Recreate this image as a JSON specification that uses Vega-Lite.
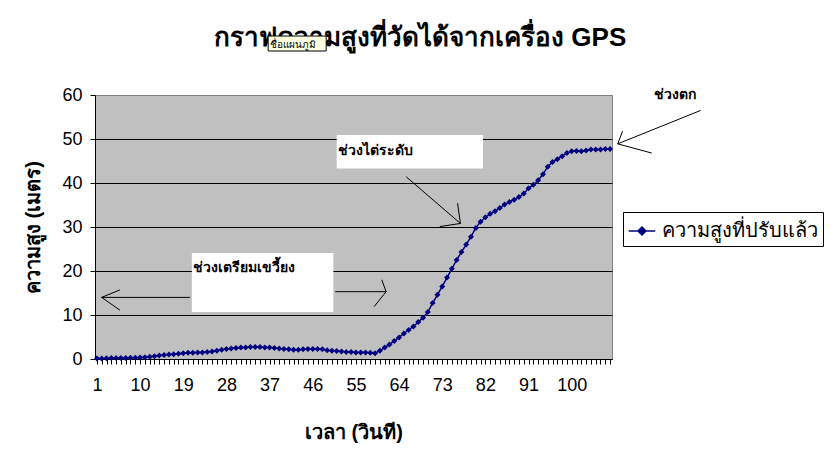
{
  "$schema": "https://vega.github.io/schema/vega-lite/v6.json",
  "autosize": {"type": "none"},
  "width": 517,
  "height": 264,
  "padding": {"left": 95, "top": 95, "right": 223, "bottom": 92},
  "background": "white",
  "config": {
    "view": {"fill": "#C0C0C0", "stroke": "#808080", "strokeWidth": 1},
    "axis": {"labelFont": "Liberation Sans", "titleFont": "Liberation Sans", "labelColor": "black", "titleColor": "black", "domainColor": "black", "tickColor": "black"}
  },
  "datasets": {
    "series": [
      {"t":1,"h":0.1},{"t":2,"h":0.1},{"t":3,"h":0.15},{"t":4,"h":0.2},{"t":5,"h":0.2},{"t":6,"h":0.25},{"t":7,"h":0.25},{"t":8,"h":0.3},{"t":9,"h":0.3},{"t":10,"h":0.35},
      {"t":11,"h":0.4},{"t":12,"h":0.5},{"t":13,"h":0.65},{"t":14,"h":0.8},{"t":15,"h":0.9},{"t":16,"h":1.0},{"t":17,"h":1.1},{"t":18,"h":1.2},{"t":19,"h":1.3},{"t":20,"h":1.4},
      {"t":21,"h":1.4},{"t":22,"h":1.5},{"t":23,"h":1.5},{"t":24,"h":1.6},{"t":25,"h":1.7},{"t":26,"h":1.9},{"t":27,"h":2.1},{"t":28,"h":2.3},{"t":29,"h":2.4},{"t":30,"h":2.5},
      {"t":31,"h":2.6},{"t":32,"h":2.6},{"t":33,"h":2.7},{"t":34,"h":2.7},{"t":35,"h":2.7},{"t":36,"h":2.6},{"t":37,"h":2.6},{"t":38,"h":2.5},{"t":39,"h":2.4},{"t":40,"h":2.3},
      {"t":41,"h":2.2},{"t":42,"h":2.1},{"t":43,"h":2.1},{"t":44,"h":2.2},{"t":45,"h":2.3},{"t":46,"h":2.3},{"t":47,"h":2.3},{"t":48,"h":2.2},{"t":49,"h":2.0},{"t":50,"h":1.9},
      {"t":51,"h":1.8},{"t":52,"h":1.7},{"t":53,"h":1.6},{"t":54,"h":1.6},{"t":55,"h":1.5},{"t":56,"h":1.5},{"t":57,"h":1.5},{"t":58,"h":1.4},{"t":59,"h":1.3},{"t":60,"h":1.9},
      {"t":61,"h":2.6},{"t":62,"h":3.3},{"t":63,"h":4.1},{"t":64,"h":4.9},{"t":65,"h":5.8},{"t":66,"h":6.6},{"t":67,"h":7.4},{"t":68,"h":8.4},{"t":69,"h":9.4},{"t":70,"h":10.7},
      {"t":71,"h":12.7},{"t":72,"h":14.6},{"t":73,"h":16.5},{"t":74,"h":18.5},{"t":75,"h":20.5},{"t":76,"h":22.5},{"t":77,"h":24.3},{"t":78,"h":26.0},{"t":79,"h":27.8},{"t":80,"h":29.8},
      {"t":81,"h":31.2},{"t":82,"h":32.2},{"t":83,"h":33.0},{"t":84,"h":33.6},{"t":85,"h":34.3},{"t":86,"h":35.1},{"t":87,"h":35.7},{"t":88,"h":36.2},{"t":89,"h":36.8},{"t":90,"h":37.6},
      {"t":91,"h":38.8},{"t":92,"h":39.6},{"t":93,"h":40.6},{"t":94,"h":42.0},{"t":95,"h":43.7},{"t":96,"h":44.8},{"t":97,"h":45.4},{"t":98,"h":46.1},{"t":99,"h":46.8},{"t":100,"h":47.2},
      {"t":101,"h":47.3},{"t":102,"h":47.2},{"t":103,"h":47.4},{"t":104,"h":47.6},{"t":105,"h":47.6},{"t":106,"h":47.6},{"t":107,"h":47.7},{"t":108,"h":47.7}
    ],
    "heading": [
      {"x": 68.4, "y": 71.1, "label": "กราฟความสูงที่วัดได้จากเครื่อง GPS"}
    ],
    "boxes": [
      {"x": 20.8, "x2": 50.3, "y": 24.1, "y2": 10.7},
      {"x": 51.0, "x2": 81.5, "y": 50.9, "y2": 43.3}
    ],
    "tip": [
      {"x": 36.7, "x2": 48.8, "y": 73.4, "y2": 70.0, "label": "ชื่อแผนภูมิ", "lx": 37.1, "ly": 70.7}
    ],
    "segments": [
      {"x": 20.4, "y": 14.0, "x2": 1.98, "y2": 14.0},
      {"x": 1.98, "y": 14.0, "x2": 5.8, "y2": 15.7},
      {"x": 1.98, "y": 14.0, "x2": 5.8, "y2": 11.1},
      {"x": 50.7, "y": 15.3, "x2": 61.3, "y2": 15.3},
      {"x": 61.3, "y": 15.3, "x2": 60.4, "y2": 18.0},
      {"x": 61.3, "y": 15.3, "x2": 58.8, "y2": 11.9},
      {"x": 65.5, "y": 41.4, "x2": 76.8, "y2": 30.8},
      {"x": 76.8, "y": 30.8, "x2": 76.2, "y2": 35.4},
      {"x": 76.8, "y": 30.8, "x2": 72.5, "y2": 30.1},
      {"x": 126.9, "y": 56.5, "x2": 109.6, "y2": 48.9},
      {"x": 109.6, "y": 48.9, "x2": 110.6, "y2": 51.8},
      {"x": 109.6, "y": 48.9, "x2": 116.7, "y2": 46.8}
    ],
    "notes": [
      {"x": 21.0, "y": 19.7, "label": "ช่วงเตรียมเขวี้ยง"},
      {"x": 51.2, "y": 46.4, "label": "ช่วงไต่ระดับ"},
      {"x": 117.1, "y": 59.1, "label": "ช่วงตก"}
    ]
  },
  "layer": [
    {
      "data": {"name": "boxes"},
      "mark": {"type": "rect", "fill": "white", "clip": false},
      "encoding": {
        "x": {"field": "x", "type": "quantitative", "scale": {"domain": [0.6, 108.4], "nice": false, "zero": false},
          "axis": {
            "title": "เวลา (วินที)",
            "titleFontSize": 20, "titleFontWeight": "bold", "titlePadding": 28,
            "values": [1,2,3,4,5,6,7,8,9,10,11,12,13,14,15,16,17,18,19,20,21,22,23,24,25,26,27,28,29,30,31,32,33,34,35,36,37,38,39,40,41,42,43,44,45,46,47,48,49,50,51,52,53,54,55,56,57,58,59,60,61,62,63,64,65,66,67,68,69,70,71,72,73,74,75,76,77,78,79,80,81,82,83,84,85,86,87,88,89,90,91,92,93,94,95,96,97,98,99,100,101,102,103,104,105,106,107,108],
            "tickCount": 500,
            "format": "d",
            "labelExpr": "(datum.value - 1) % 9 == 0 ? datum.label : ''",
            "labelFontSize": 18, "labelPadding": 12, "labelOverlap": false, "labelFlush": false,
            "tickSize": 5, "grid": false, "domainWidth": 1
          }
        },
        "x2": {"field": "x2"},
        "y": {"field": "y", "type": "quantitative", "scale": {"domain": [0, 60], "nice": false},
          "axis": {
            "title": "ความสูง (เมตร)",
            "titleFontSize": 20, "titleFontWeight": "bold", "titlePadding": 18,
            "values": [0, 10, 20, 30, 40, 50, 60],
            "format": "d",
            "labelFontSize": 18, "labelPadding": 8, "tickSize": 5,
            "grid": true, "gridWidth": 1,
            "gridColor": {"condition": {"test": "datum.value == 60", "value": "#808080"}, "value": "black"},
            "domainWidth": 1
          }
        },
        "y2": {"field": "y2"}
      }
    },
    {
      "data": {"name": "heading"},
      "mark": {"type": "text", "align": "center", "baseline": "alphabetic", "fontSize": 26, "fontWeight": "bold", "font": "Liberation Sans", "color": "black", "clip": false},
      "encoding": {
        "x": {"field": "x", "type": "quantitative"},
        "y": {"field": "y", "type": "quantitative"},
        "text": {"field": "label"}
      }
    },
    {
      "data": {"name": "tip"},
      "mark": {"type": "rect", "fill": "#FFFFE1", "stroke": "black", "strokeWidth": 1, "clip": false},
      "encoding": {
        "x": {"field": "x", "type": "quantitative"},
        "x2": {"field": "x2"},
        "y": {"field": "y", "type": "quantitative"},
        "y2": {"field": "y2"}
      }
    },
    {
      "data": {"name": "tip"},
      "mark": {"type": "text", "align": "left", "baseline": "alphabetic", "fontSize": 10, "font": "Liberation Sans", "color": "black", "clip": false},
      "encoding": {
        "x": {"field": "lx", "type": "quantitative"},
        "y": {"field": "ly", "type": "quantitative"},
        "text": {"field": "label"}
      }
    },
    {
      "data": {"name": "segments"},
      "mark": {"type": "rule", "color": "black", "strokeWidth": 1, "clip": false},
      "encoding": {
        "x": {"field": "x", "type": "quantitative"},
        "y": {"field": "y", "type": "quantitative"},
        "x2": {"field": "x2"},
        "y2": {"field": "y2"}
      }
    },
    {
      "data": {"name": "notes"},
      "mark": {"type": "text", "align": "left", "baseline": "alphabetic", "fontSize": 14, "fontWeight": "bold", "font": "Liberation Serif", "color": "black", "clip": false},
      "encoding": {
        "x": {"field": "x", "type": "quantitative"},
        "y": {"field": "y", "type": "quantitative"},
        "text": {"field": "label"}
      }
    },
    {
      "data": {"name": "series"},
      "transform": [{"calculate": "'ความสูงที่ปรับแล้ว'", "as": "series"}],
      "mark": {"type": "line", "strokeWidth": 1.5, "point": {"shape": "diamond", "size": 36, "filled": true, "color": "#000080"}},
      "encoding": {
        "x": {"field": "t", "type": "quantitative"},
        "y": {"field": "h", "type": "quantitative"},
        "color": {"field": "series", "type": "nominal",
          "scale": {"range": ["#000080"]},
          "legend": {
            "title": null, "orient": "none", "legendX": 528, "legendY": 117,
            "strokeColor": "black", "fillColor": "white", "padding": 5,
            "labelFont": "Liberation Sans", "labelFontSize": 20, "labelColor": "black",
            "symbolType": "M-1,0H1M0,-0.3L0.3,0L0,0.3L-0.3,0Z",
            "symbolSize": 700, "symbolStrokeWidth": 1.5, "symbolFillColor": "#000080", "symbolStrokeColor": "#000080",
            "labelOffset": 6
          }
        }
      }
    }
  ]
}
